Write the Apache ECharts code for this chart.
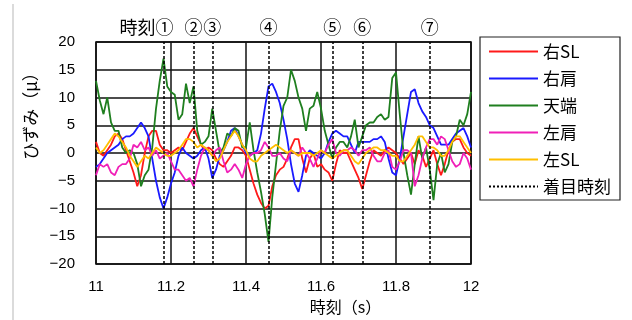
<!DOCTYPE html>
<html>
<head>
<meta charset="utf-8">
<script src="https://cdn.jsdelivr.net/npm/echarts@6/dist/echarts.min.js"></script>
<style>
  html, body { margin: 0; padding: 0; background: #fff; }
  #main { width: 632px; height: 320px; }
</style>
</head>
<body>
<div id="main"></div>
<script>
// sample grid: 11.00 .. 12.00 s every 0.01 s
const times = Array.from({ length: 101 }, (_, i) => +(11 + i / 100).toFixed(2));

const rightSL = [
  2, 0, -0.5, 0.5, 1.5, 3, 3.5, 2.5, 0.5, -1.5,
  -3.5, -6, -4, 0, 3, 4, 4, 1.5, 0.5, 0.5,
  0, 0.5, 1, 0.5, 2, 3.5, 4.5, 3, 1.5, 0.5,
  1, 0.5, -1, -2, -2.5, -1.5, -0.5, 1, 1, 0.5,
  -0.5, -3, -5.5, -7.5, -9, -10, -9.5, -6, -4, -3,
  -2.5, -1, 1, 2.5, 2.5, -1, -3.5, -1, 0, -2.5,
  -2, -3, -3.5, -5, -2, 0.5, 0, 0, -1.5, -3,
  -4.5, -6.5, -4, -1.5, 0.5, 0, -0.5, 0.5, 1, 0.5,
  0, -1, -2, -1, 0, -2, 0.5, -0.5, -2.5, -1,
  0.5, -2, -4, -2, 0.5, 2, 2.5, 2.5, 1, 0,
  -0.5
];
const rightShoulder = [
  -2.5, -2, -1, 0, 0.5, 1, 1.5, 2.5, 3, 3,
  3.5, 4.5, 5.5, 4.5, 3, -1, -5, -8, -10, -8,
  -5.5, -3.5, -0.5, 1, 0, -0.5, -1, -0.5, 0.5, 1,
  -1, -4.5, -3, -0.5, 0.5, 2, 4, 4.5, 3, 1.5,
  0, -0.5, 0, 0.5, 3.5, 8, 12, 12.5, 11, 9,
  6, 2.5, -2, -5.5, -7, -4, -0.5, 0.5, 0, -0.5,
  -1, 0, 2, 3.5, 4, 3.5, 3, 3, 1.5, 0,
  2, 2, 2, 2, 2.5, 2.5, 3, 2, -1, -3.5,
  -4, -1, 3, 7, 11, 11.5, 9, 7.5, 6.5, 5,
  4.5, 3, 1.5, 1.5, 1.5, 2.5, 3.5, 4, 4.5, 3,
  1
];
const crown = [
  13, 9.5, 7, 10, 5.5, 4, 4, 1, 0, 0.5,
  0, -2, -6, -4, -3, 1, 8, 13, 17, 12,
  11, 10.5, 6, 7, 12.5, 9, 12, 4, 1.5, 2,
  3, 8, 4, 0, 1, 3.5, 3, 4.5, 4, 1,
  1, 5.5, 0.5, -3.5, -7, -11, -16, -8, -2, 4,
  8.5, 10, 15, 13, 10, 8, 4, 8, 8.5, 11,
  8, 4, 1.5, -1, 1, 2, 2, 1, 3, 6,
  1, 3, 5, 5.5, 5.5, 6.5, 7, 6, 6.5, 13.5,
  14.5, 7, 0, -4, -7.5, -2, 3, -1, 1, -3,
  -8.5, -2, 0, -3.5, -2, 2, 3, 6, 5, 7,
  11
];
const leftShoulder = [
  -4, -2, -2.5, -2, -3.5, -4, -2.5, -2, -2, -1,
  1.5, 1, 2, 0.5, 1, -0.5, 0.5, -1, -0.5, 0,
  -1.5, -3, -3, -4, -5, -4.5, -6, -3, -0.5, 1,
  0.5, -0.5, 0.5, 1, -1.5, -3.5, -3, -2, -3, -4.5,
  -2, -0.5, 0, 0, 0.5, 2, 1, -0.5, -0.5, 0,
  -1, -1.5, 0.5, 0, -0.5, 1, 0, -1, -2.5, -1,
  0.5, 0, 1.5, 2.5, 0, -0.5, 0.5, 0.5, 1, 0.5,
  -0.5, 0.5, 0.5, 1, -0.5, -1.5, -1.5, 0, 0.5, -2.5,
  -3, -1.5, 0.5, 0.5, 0, -6, -4, -1, 1, 2.5,
  2.5, 1.5, 3, 2.5, 0.5, -1.5, -2.5, -2, 0, -1,
  -3
];
const leftSL = [
  1, 0, 0.5, 1.5, 2.5, 3.5, 3, 2, 1, -0.5,
  -1.5, -2.5, -1.5, -0.5, -1, 0, 1, 0.5, 0, -0.5,
  -0.5, 0, 0.5, 1.5, 2.5, 2.5, 2, 1, 1.5, 1,
  0.5, -0.5, -1.5, -1, 0.5, 2, 3, 4, 3, 1.5,
  0.5, -1, -1.5, -1.5, -0.5, 0, 0.5, 1, 1.5, 1,
  0.5, 0, 0.5, 0, -0.5, 0, 0, 0, -0.5, 0,
  0.5, 0, -0.5, -1, -0.5, 0, 0.5, 0.5, -0.5, -1.5,
  -2, -1, 0, 0.5, 1, 1, 0.5, 0.5, 0, -0.5,
  -0.5, -1.5, -1.5, -0.5, 0.5, 1.5, 3, 3, 2, 1,
  1, 0.5, -0.5, -0.5, 0.5, 2, 3, 3, 2, 1,
  0
];

// moments of interest (dashed lines)
const focusTimes = [11.18, 11.26, 11.31, 11.46, 11.63, 11.715, 11.895];
const focusLabels = ['①', '②', '③', '④', '⑤', '⑥', '⑦'];

const seriesDefs = [
  { name: '右SL', color: '#ff1a1a', values: rightSL },
  { name: '右肩', color: '#1a1aff', values: rightShoulder },
  { name: '天端', color: '#1f7f1f', values: crown },
  { name: '左肩', color: '#f020b8', values: leftShoulder },
  { name: '左SL', color: '#ffbf00', values: leftSL }
];

const FONT = "'Liberation Sans', 'Noto Sans CJK JP', sans-serif";
const JP = "'Noto Sans CJK JP', 'Liberation Sans', sans-serif";

const chart = echarts.init(document.getElementById('main'));

const lineSeries = seriesDefs.map(s => ({
  name: s.name,
  type: 'line',
  data: times.map((t, i) => [t, s.values[i]]),
  showSymbol: false,
  symbol: 'none',
  color: s.color,
  lineStyle: { width: 1.8, color: s.color },
  animation: false,
  z: 3
}));

const markData = focusTimes.map((t, i) => {
  const item = { xAxis: t, label: { formatter: focusLabels[i] } };
  if (i === 0) {
    item.label = { formatter: '時刻' + focusLabels[i], align: 'right', offset: [10, 0] };
  }
  return item;
});

const option = {
  animation: false,
  textStyle: { fontFamily: FONT },
  grid: { left: 96, right: 161, top: 42, bottom: 56, show: true, borderColor: '#000', borderWidth: 1.5 },
  xAxis: {
    type: 'value',
    min: 11,
    max: 12,
    interval: 0.2,
    name: '時刻（s）',
    nameLocation: 'middle',
    nameGap: 34,
    nameTextStyle: { fontSize: 16, color: '#000', fontFamily: JP, padding: [0, 0, 0, 124] },
    axisLine: { show: false },
    axisTick: { show: false },
    axisLabel: { color: '#000', fontSize: 15, margin: 15, formatter: v => +v.toFixed(1) + '' },
    splitLine: { show: true, lineStyle: { color: '#111', width: 1.5 } }
  },
  yAxis: {
    type: 'value',
    min: -20,
    max: 20,
    interval: 5,
    name: 'ひずみ（μ）',
    nameLocation: 'middle',
    nameRotate: 90,
    nameGap: 57,
    nameTextStyle: { fontSize: 17, color: '#000', fontFamily: JP, padding: [0, 0, 0, 82] },
    axisLine: { show: false },
    axisTick: { show: false },
    axisLabel: { color: '#000', fontSize: 15, margin: 21, formatter: v => (v < 0 ? '−' + Math.abs(v) : '' + v) },
    splitLine: { show: true, lineStyle: { color: '#111', width: 1.5 } }
  },
  legend: {
    orient: 'vertical',
    left: 480,
    top: 37,
    data: ['右SL', '右肩', '天端', '左肩', '左SL', '着目時刻'],
    itemWidth: 49,
    itemHeight: 14,
    itemGap: 10,
    padding: [6, 9, 5, 8],
    borderColor: '#222',
    borderWidth: 1.2,
    itemStyle: { opacity: 0 },
    textStyle: { fontSize: 17, color: '#000', fontFamily: JP }
  },
  graphic: [
    { type: 'line', shape: { x1: 13, y1: 4, x2: 13, y2: 320 }, style: { stroke: '#cfcfcf', lineWidth: 1.5 } }
  ],
  series: lineSeries.concat([{
    name: '着目時刻',
    type: 'line',
    data: [],
    symbol: 'none',
    color: '#000',
    lineStyle: { type: [2, 2], width: 1.2, color: '#000' },
    markLine: {
      silent: true,
      symbol: 'none',
      animation: false,
      lineStyle: { type: [3, 2], width: 1.5, color: '#000' },
      label: { position: 'end', distance: 6, color: '#000', fontSize: 18, fontFamily: JP },
      data: markData
    },
    z: 2
  }])
};

chart.setOption(option);
</script>
</body>
</html>
